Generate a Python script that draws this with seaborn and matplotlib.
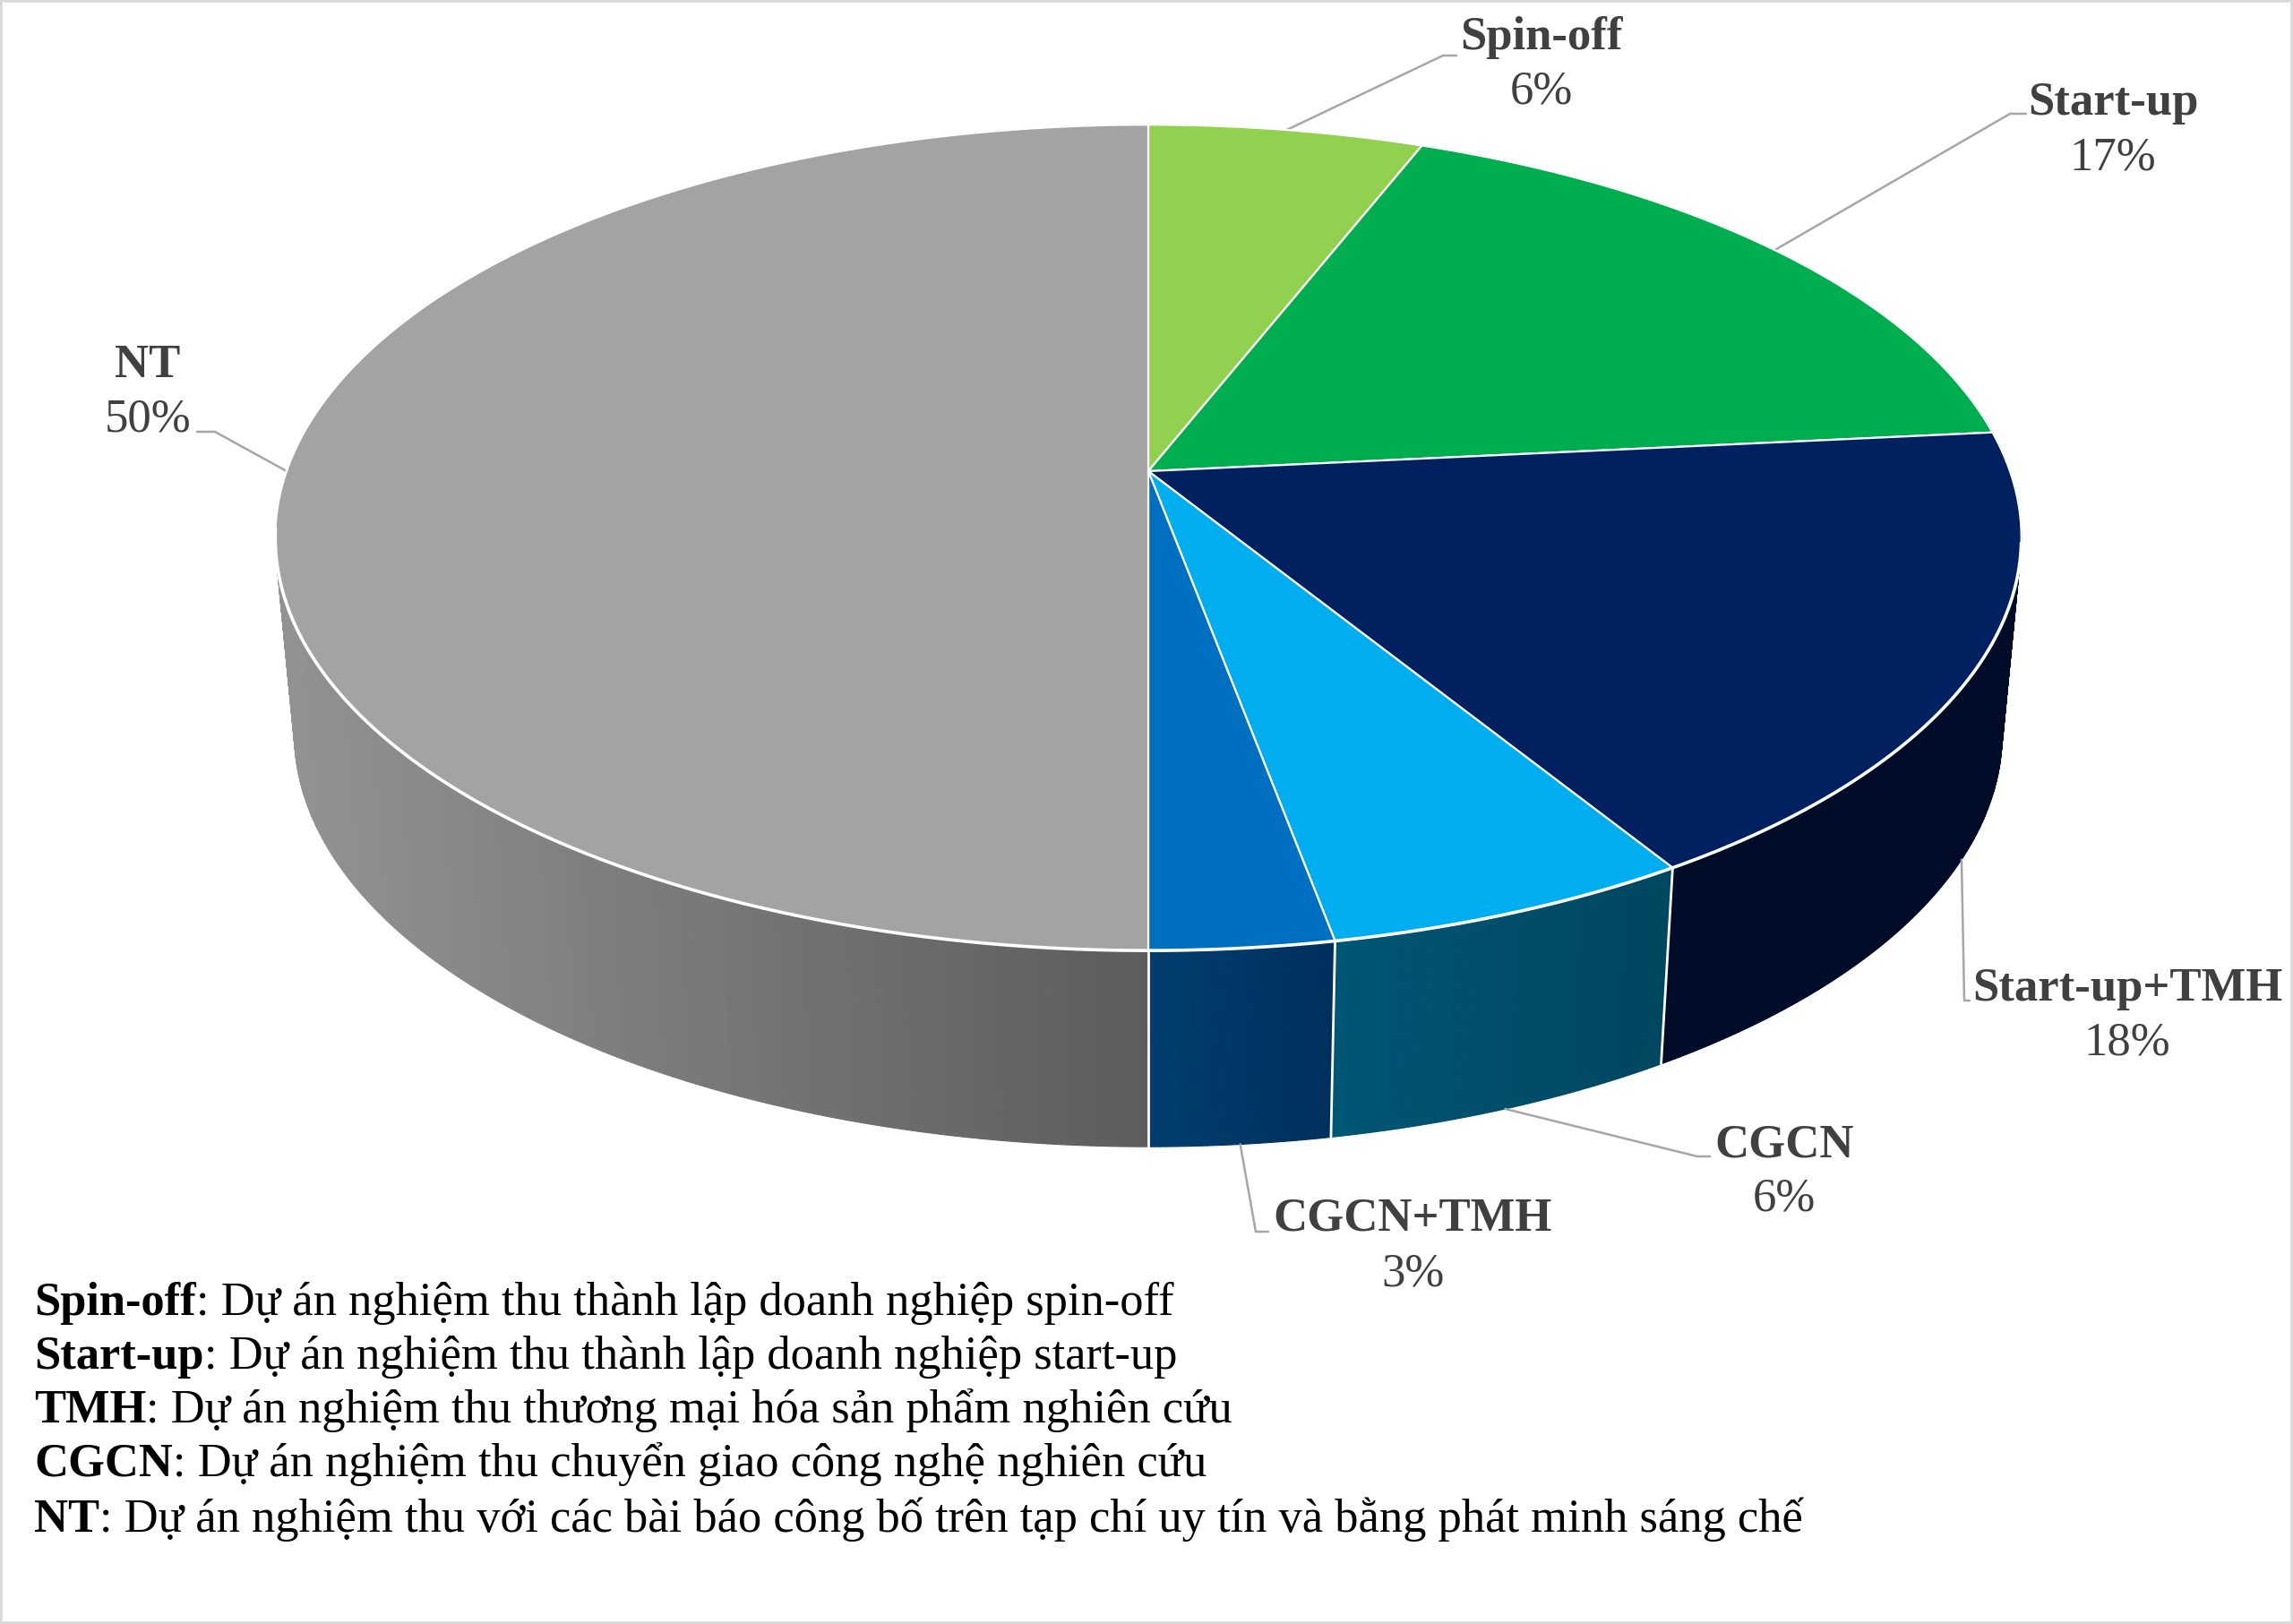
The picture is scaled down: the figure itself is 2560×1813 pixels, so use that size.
import numpy as np
import seaborn as sns
from matplotlib import pyplot as plt

# values, clockwise from twelve o'clock
categories = ["Spin-off", "Start-up", "Start-up+TMH", "CGCN", "CGCN+TMH", "NT"]
shares = [5.95, 17.49, 17.76, 5.88, 2.92, 50.0]
top_colors = ["#92d050", "#00ae50", "#002060", "#00aeef", "#006fbf", "#a3a3a3"]
side_left = ["#92d050", "#00ae50", "#000c28", "#005674", "#003e70", "#929292"]
side_right = ["#92d050", "#00ae50", "#000c28", "#00465f", "#002f5c", "#5c5c5c"]

note_keys = ["Spin-off", "Start-up", "TMH", "CGCN", "NT"]
note_texts = [
    ": Dự án nghiệm thu thành lập doanh nghiệp spin-off",
    ": Dự án nghiệm thu thành lập doanh nghiệp start-up",
    ": Dự án nghiệm thu thương mại hóa sản phẩm nghiên cứu",
    ": Dự án nghiệm thu chuyển giao công nghệ nghiên cứu",
    ": Dự án nghiệm thu với các bài báo công bố trên tạp chí uy tín và bằng phát minh sáng chế",
]

# label layout in pixels: centre x, name baseline, percent baseline, leader elbow, leader end
label_x = [1721, 2359, 2375, 1992, 1577, 165]
name_y = [55, 128, 1117, 1291, 1374, 421]
pct_y = [116, 189, 1178, 1352, 1435, 481]
elbow = [(1611, 62), (2244, 127), (2193, 1117), (1895, 1291), (1402, 1375), (240, 482)]
leader_end = [(1626, 62), (2262, 127), (2199, 1117), (1909, 1291), (1416, 1375), (220, 482)]
on_bottom_rim = [False, False, True, True, True, False]

note_y = [1468, 1528, 1588, 1648, 1710]
note_x = 38

# perspective of the disc
CX, CY = 1282, 526
RX, RY = 962, 449
TILT = 0.161
DEPTH = 219
SHRINK = 0.978
FONT = "Liberation Serif"
LABEL_SIZE = 38
NOTE_SIZE = 37.8


def rim(theta):
    u, v = np.sin(theta), np.cos(theta)
    w = 1 + TILT * v
    return CX + RX * u / w, CY - RY * v / w


def base(theta):
    x, y = rim(theta)
    return CX + (x - CX) * SHRINK, y + DEPTH


sns.set_theme(style="white")
plt.rcParams["font.family"] = [FONT, "DejaVu Sans"]

fig = plt.figure(figsize=(25.6, 18.13), dpi=100)
ax = fig.add_axes([0, 0, 1, 1])
ax.set_xlim(0, 2560)
ax.set_ylim(1813, 0)
ax.set_xticks([])
ax.set_yticks([])
for spine in ax.spines.values():
    spine.set_color("#d9d9d9")
    spine.set_linewidth(4)

edges = np.cumsum([0] + shares) / sum(shares) * 2 * np.pi

# side wall, one thin quad at a time so the shading can run left to right
for i in range(len(shares)):
    start, stop = edges[i], edges[i + 1]
    if stop <= np.radians(80):
        continue
    steps = max(int(np.degrees(stop - start) * 3), 2)
    thetas = np.linspace(start, stop, steps + 1)
    tops = np.array([rim(t) for t in thetas])
    bots = np.array([base(t) for t in thetas])
    shades = sns.blend_palette([side_left[i], side_right[i]], 64)
    xmin, xmax = bots[:, 0].min(), bots[:, 0].max()
    for j in range(steps):
        pos = (bots[j, 0] + bots[j + 1, 0]) / 2
        c = shades[int((pos - xmin) / (xmax - xmin) * 63)]
        ax.fill([tops[j, 0], tops[j + 1, 0], bots[j + 1, 0], bots[j, 0]],
                [tops[j, 1], tops[j + 1, 1], bots[j + 1, 1], bots[j, 1]],
                color=c, lw=0.8, zorder=1)

# white dividers on the wall
for theta in edges[3:6]:
    x0, y0 = rim(theta)
    x1, y1 = base(theta)
    ax.plot([x0, x1], [y0, y1], color="white", lw=2, zorder=2)

# top face
for i in range(len(shares)):
    thetas = np.linspace(edges[i], edges[i + 1], 240)
    pts = np.array([rim(t) for t in thetas])
    xs = np.r_[CX, pts[:, 0]]
    ys = np.r_[CY, pts[:, 1]]
    ax.fill(xs, ys, facecolor=top_colors[i], edgecolor="white", lw=1.6,
            joinstyle="round", zorder=3)

# the front rim reads a little heavier than the radial lines
front = np.linspace(np.radians(100), np.radians(262), 400)
front_pts = np.array([rim(t) for t in front])
ax.plot(front_pts[:, 0], front_pts[:, 1], color="white", lw=2.6, zorder=4)

# labels and leaders
for i, name in enumerate(categories):
    mid = (edges[i] + edges[i + 1]) / 2
    anchor = base(mid) if on_bottom_rim[i] else rim(mid)
    ax.plot([anchor[0], elbow[i][0], leader_end[i][0]],
            [anchor[1], elbow[i][1], leader_end[i][1]],
            color="#a6a6a6", lw=1.8, zorder=2)
    ax.text(label_x[i], name_y[i], name, ha="center", va="baseline",
            fontsize=LABEL_SIZE, fontweight="bold", color="#404040", zorder=5)
    ax.text(label_x[i], pct_y[i], f"{shares[i]:.0f}%", ha="center", va="baseline",
            fontsize=LABEL_SIZE, color="#404040", zorder=5)

# notes: bold key then regular text on the same baseline
renderer = fig.canvas.get_renderer()
for key, body, y in zip(note_keys, note_texts, note_y):
    t = ax.text(note_x, y, key, ha="left", va="baseline", fontsize=NOTE_SIZE,
                fontweight="bold", color="black", zorder=5)
    x_end = t.get_window_extent(renderer).x1
    ax.text(x_end, y, body, ha="left", va="baseline", fontsize=NOTE_SIZE,
            color="black", zorder=5)

fig.savefig("out.png", dpi=100)
